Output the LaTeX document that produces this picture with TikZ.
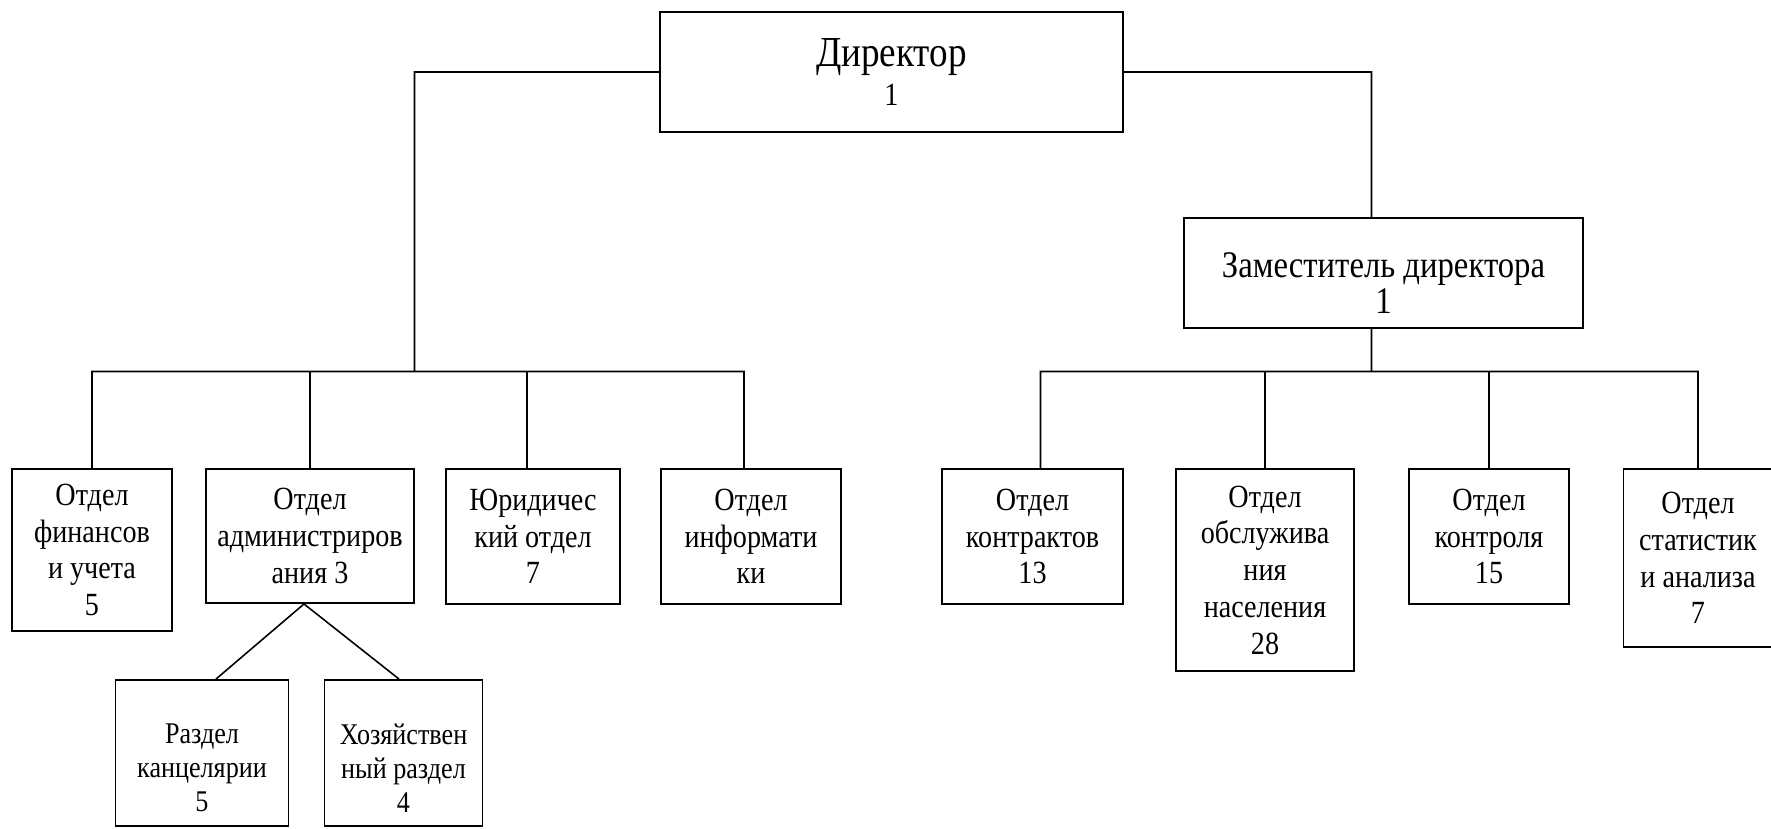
\documentclass[tikz,border=0pt]{standalone}
\usepackage{fontspec}
\setmainfont{Liberation Serif}[FakeStretch=0.87]
\tikzset{
unit/.style={draw, rectangle, line width=1.1pt, inner sep=0pt, align=center, font=\fontsize{18.4}{20.9}\selectfont}, % one box of the chart
subunit/.style={unit, font=\fontsize{17.1}{19.5}\selectfont}, % smaller boxes below a department
link/.style={line width=0.9pt}, % the connecting lines
}
% text set a little below the middle of its box
\newcommand{\lowtext}[3]{\raisebox{-#1}[\height][\depth]{\parbox{#2}{\centering #3}}}
\begin{document}
\begin{tikzpicture}
        \path[use as bounding box, fill=white] (0,0) rectangle (35.42,-16.56);
        \node[unit, minimum width=9.25cm, minimum height=2.39cm, font=\fontsize{18.4}{22.5}\selectfont] at (17.83,-1.44) (dir) {{\fontsize{24.3}{22.5}\selectfont Директор}\\1};
        \node[unit, minimum width=7.98cm, minimum height=2.21cm, font=\fontsize{21.4}{21}\selectfont] at (27.67,-5.46) (dep) {\lowtext{0.2cm}{7.5cm}{Заместитель директора\\1}};
        % left branch
        \node[unit, minimum width=3.21cm, minimum height=3.24cm] at (1.84,-11.0) (fin) {Отдел\\финансов\\и учета\\5};
        \node[unit, minimum width=4.17cm, minimum height=2.68cm] at (6.20,-10.72) (adm) {Отдел\\администриров\\ания 3};
        \node[unit, minimum width=3.49cm, minimum height=2.70cm] at (10.66,-10.73) (law) {Юридичес\\кий отдел\\7};
        \node[unit, minimum width=3.59cm, minimum height=2.70cm] at (15.02,-10.73) (inf) {Отдел\\информати\\ки};
        \node[subunit, minimum width=3.46cm, minimum height=2.92cm] at (4.04,-15.06) (off) {\lowtext{0.3cm}{3.2cm}{Раздел\\канцелярии\\5}};
        \node[subunit, minimum width=3.16cm, minimum height=2.92cm] at (8.07,-15.06) (eco) {\lowtext{0.3cm}{3cm}{Хозяйствен\\ный раздел\\4}};
        % right branch
        \node[unit, minimum width=3.62cm, minimum height=2.70cm] at (20.65,-10.73) (con) {Отдел\\контрактов\\13};
        \node[unit, minimum width=3.57cm, minimum height=4.03cm] at (25.30,-11.40) (ser) {Отдел\\обслужива\\ния\\населения\\28};
        \node[unit, minimum width=3.20cm, minimum height=2.70cm] at (29.78,-10.73) (ctl) {Отдел\\контроля\\15};
        \node[unit, minimum width=2.98cm, minimum height=3.55cm] at (33.96,-11.16) (sta) {Отдел\\статистик\\и анализа\\7};
        \coordinate (lbus) at (8.29,-7.43);
        \coordinate (rbus) at (27.43,-7.43);
        \draw[link]
        (dir.west) -| (lbus)
        (fin.north) |- (lbus) -| ([xshift=-0.14cm]inf.north)
        (lbus -| adm.north) -- (adm.north)
        (lbus -| law.north) ++(-0.12,0) -- ([xshift=-0.12cm]law.north)
        (dir.east) -| (dep.north -| rbus)
        (dep.south -| rbus) -- (rbus)
        ([xshift=0.16cm]con.north) |- (rbus) -| (sta.north)
        (rbus -| ser.north) -- (ser.north)
        (rbus -| ctl.north) -- (ctl.north)
        ([xshift=-0.12cm]adm.south) -- ([xshift=0.28cm]off.north)
        ([xshift=-0.12cm]adm.south) -- ([xshift=-0.09cm]eco.north)
        ;
    \end{tikzpicture}
\end{document}
